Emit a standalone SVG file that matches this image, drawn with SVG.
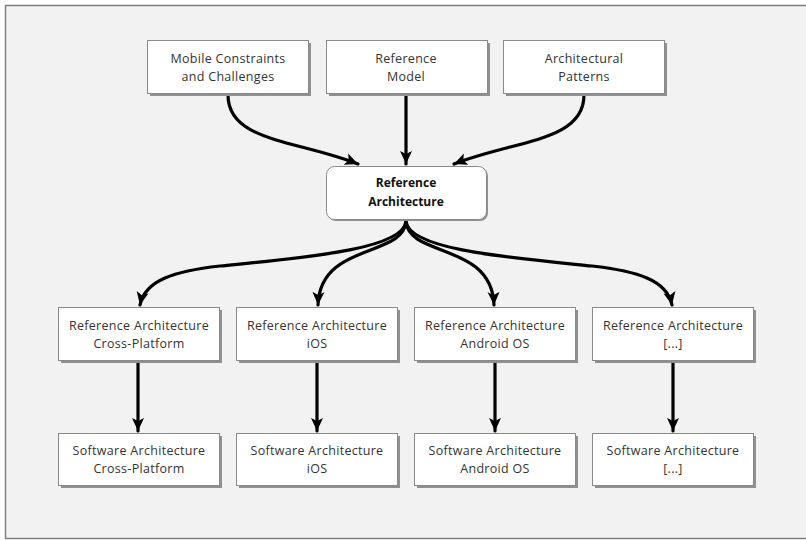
<svg xmlns="http://www.w3.org/2000/svg" width="806" height="540" viewBox="0 0 806 540">
<defs>
<style>
.box{fill:#ffffff;stroke:#8a8a8a;stroke-width:1}
.sh{fill:#909090}
.t{font-family:"Open Sans","Liberation Sans",sans-serif;font-size:12.5px;letter-spacing:0.3px;fill:#333333;text-anchor:middle}
.b{font-weight:bold;fill:#111111;font-size:12px;letter-spacing:0}
.c{fill:none;stroke:#000000;stroke-width:3.2;stroke-linecap:round}
</style>
<marker id="ah" markerUnits="userSpaceOnUse" markerWidth="14" markerHeight="14" viewBox="0 0 14 14" refX="13" refY="7" orient="auto">
<path d="M0,1 L13,7 L0,13 L3,7 Z" fill="#000000"/>
</marker>
</defs>
<rect x="5.5" y="5.5" width="803" height="533" fill="#f2f2f2" stroke="#808080" stroke-width="1.5"/>
<g id="connectors">
<path class="c" d="M228,95 C228,142 298,140 358,164" marker-end="url(#ah)"/>
<path class="c" d="M406,95 L406,164" marker-end="url(#ah)"/>
<path class="c" d="M584,95 C584,142 514,140 454,164" marker-end="url(#ah)"/>
<path class="c" d="M406,221 C404,250 300,258 220,266 C175,271 145,280 140,305" marker-end="url(#ah)"/>
<path class="c" d="M406,221 C404,258 320,242 318,305" marker-end="url(#ah)"/>
<path class="c" d="M406,221 C408,258 492,242 494,305" marker-end="url(#ah)"/>
<path class="c" d="M406,221 C408,250 512,258 592,266 C637,271 667,280 672,305" marker-end="url(#ah)"/>
<path class="c" d="M138,362 L138,431" marker-end="url(#ah)"/>
<path class="c" d="M317,362 L317,431" marker-end="url(#ah)"/>
<path class="c" d="M495,362 L495,431" marker-end="url(#ah)"/>
<path class="c" d="M673,362 L673,431" marker-end="url(#ah)"/>
</g>
<g id="mobile">
<rect class="sh" x="150" y="43" width="161" height="53"/>
<rect class="box" x="147.5" y="40.5" width="161" height="53"/>
<text class="t" x="228" y="63">Mobile Constraints</text>
<text class="t" x="228" y="81">and Challenges</text>
</g>
<g id="refmodel">
<rect class="sh" x="329" y="43" width="161" height="53"/>
<rect class="box" x="326.5" y="40.5" width="161" height="53"/>
<text class="t" x="406" y="63">Reference</text>
<text class="t" x="406" y="81">Model</text>
</g>
<g id="patterns">
<rect class="sh" x="506" y="43" width="161" height="53"/>
<rect class="box" x="503.5" y="40.5" width="161" height="53"/>
<text class="t" x="584" y="63">Architectural</text>
<text class="t" x="584" y="81">Patterns</text>
</g>
<g id="refarch">
<rect class="sh" x="328" y="168" width="160" height="53" rx="8"/>
<rect class="box" x="326.5" y="166.5" width="160" height="53" rx="8"/>
<text class="t b" x="406" y="187">Reference</text>
<text class="t b" x="406" y="206">Architecture</text>
</g>
<g id="ra-cross">
<rect class="sh" x="61" y="310" width="161" height="53"/>
<rect class="box" x="58.5" y="307.5" width="161" height="53"/>
<text class="t" x="139" y="330">Reference Architecture</text>
<text class="t" x="139" y="348">Cross-Platform</text>
</g>
<g id="ra-ios">
<rect class="sh" x="239" y="310" width="161" height="53"/>
<rect class="box" x="236.5" y="307.5" width="161" height="53"/>
<text class="t" x="317" y="330">Reference Architecture</text>
<text class="t" x="317" y="348">iOS</text>
</g>
<g id="ra-android">
<rect class="sh" x="417" y="310" width="161" height="53"/>
<rect class="box" x="414.5" y="307.5" width="161" height="53"/>
<text class="t" x="495" y="330">Reference Architecture</text>
<text class="t" x="495" y="348">Android OS</text>
</g>
<g id="ra-other">
<rect class="sh" x="595" y="310" width="161" height="53"/>
<rect class="box" x="592.5" y="307.5" width="161" height="53"/>
<text class="t" x="673" y="330">Reference Architecture</text>
<text class="t" x="673" y="348">[...]</text>
</g>
<g id="sa-cross">
<rect class="sh" x="61" y="436" width="161" height="52"/>
<rect class="box" x="58.5" y="433.5" width="161" height="52"/>
<text class="t" x="139" y="455">Software Architecture</text>
<text class="t" x="139" y="473">Cross-Platform</text>
</g>
<g id="sa-ios">
<rect class="sh" x="239" y="436" width="161" height="52"/>
<rect class="box" x="236.5" y="433.5" width="161" height="52"/>
<text class="t" x="317" y="455">Software Architecture</text>
<text class="t" x="317" y="473">iOS</text>
</g>
<g id="sa-android">
<rect class="sh" x="417" y="436" width="161" height="52"/>
<rect class="box" x="414.5" y="433.5" width="161" height="52"/>
<text class="t" x="495" y="455">Software Architecture</text>
<text class="t" x="495" y="473">Android OS</text>
</g>
<g id="sa-other">
<rect class="sh" x="595" y="436" width="161" height="52"/>
<rect class="box" x="592.5" y="433.5" width="161" height="52"/>
<text class="t" x="673" y="455">Software Architecture</text>
<text class="t" x="673" y="473">[...]</text>
</g>
</svg>
